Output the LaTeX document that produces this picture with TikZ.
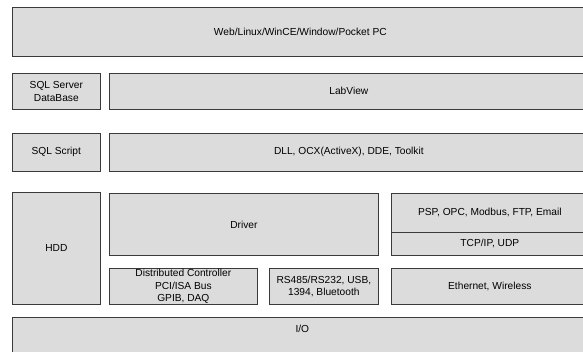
\documentclass[tikz,border=0pt]{standalone}
\usepackage{fontspec}
\setmainfont{Liberation Sans}
\usetikzlibrary{calc}
\definecolor{boxgray}{HTML}{DCDCDC}
\definecolor{boxline}{HTML}{3A3A3A}
\tikzset{
  box/.style={draw=boxline, fill=boxgray, line width=0.7pt, inner sep=0pt,
    anchor=north west, align=center, font=\fontsize{10.2}{12.3}\selectfont},
  lbl/.style={inner sep=0pt, font=\fontsize{10.2}{12.3}\selectfont}
}
\begin{document}
\begin{tikzpicture}[x=1pt,y=-1pt]
\clip (0,0) rectangle (583,351);
\fill[white] (0,0) rectangle (583,351);
\node[box, minimum width=576, minimum height=49] (top) at (12,7) {Web/Linux/WinCE/Window/Pocket PC};
\node[box, minimum width=88, minimum height=36] (sqlserver) at (12,73) {SQL Server\\DataBase};
\node[box, minimum width=479, minimum height=36] (labview) at (109,73) {LabView};
\node[box, minimum width=88, minimum height=38] (sqlscript) at (12,133) {SQL Script};
\node[box, minimum width=479, minimum height=38] (dll) at (109,133) {DLL, OCX(ActiveX), DDE, Toolkit};
\node[box, minimum width=88, minimum height=112] (hdd) at (12,192) {HDD};
\node[box, minimum width=269, minimum height=62] (driver) at (109,193) {Driver};
\node[box, minimum width=197, minimum height=39] (psp) at (391,193) {PSP, OPC, Modbus, FTP, Email};
\node[box, minimum width=197, minimum height=23] (tcp) at (391,232) {TCP/IP, UDP};
\node[box, minimum width=148, minimum height=36] (dist) at (109,268) {Distributed Controller\\PCI/ISA Bus\\GPIB, DAQ};
\node[box, minimum width=109, minimum height=36] (rs) at (269,268) {RS485/RS232, USB,\\1394, Bluetooth};
\node[box, minimum width=197, minimum height=36] (eth) at (391,268) {Ethernet, Wireless};
\node[box, minimum width=580, minimum height=60] (io) at (12,317) {};
\node[lbl] (iotext) at ($(io.north)+(0,11.5)$) {I/O};
\end{tikzpicture}
\end{document}
